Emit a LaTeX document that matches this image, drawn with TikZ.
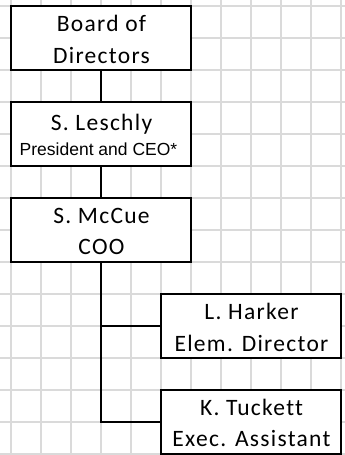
\documentclass[tikz,border=0pt]{standalone}
\usepackage{fontspec}
\setmainfont{Carlito}
\newfontfamily\cellfont[LetterSpace=5.5,Ligatures=NoCommon]{Carlito}
\newfontfamily\arialfont{Liberation Sans}
\definecolor{gridgray}{HTML}{DADADA}
\begin{document}
\begin{tikzpicture}[x=1pt,y=-1pt,
  gridline/.style={draw=gridgray,line width=1.7pt},
  box/.style={draw=black,line width=1.7pt,fill=white,minimum width=180pt,
    minimum height=64pt,inner sep=0pt,outer sep=0pt},
  wire/.style={draw=black,line width=1.7pt},
  celltext/.style={anchor=base,inner sep=0pt,font=\cellfont\fontsize{23.5}{26}\selectfont},
  roletext/.style={anchor=base,inner sep=0pt,font=\arialfont\fontsize{17.5}{21}\selectfont}]
\useasboundingbox (0,0) rectangle (345,455);
\begin{scope}
\clip (0,0) rectangle (345,455);
% worksheet cell grid
\foreach \gx in {10.7,40.7,...,341} \draw[gridline] (\gx,0) -- (\gx,455);
\foreach \gy in {6,38,...,455} \draw[gridline] (0,\gy) -- (345,\gy);
\end{scope}

% boxes
\node[box] (board) at (100.7,38) {};
\node[box] (ceo) at (100.7,134) {};
\node[box] (coo) at (100.7,230) {};
\node[box] (elem) at (250.7,326) {};
\node[box] (exec) at (250.7,422) {};

% labels
\node[celltext] (boardA) at (101.5,31.7) {Board of};
\node[celltext] (boardB) at (101.5,63.3) {Directors};
\node[celltext] (ceoA) at (101.5,130) {S. Leschly};
\node[roletext] (ceoB) at (98.5,155) {President and CEO*};
\node[celltext] (cooA) at (101.5,223.3) {S. McCue};
\node[celltext] (cooB) at (101.5,254.5) {COO};
\node[celltext] (elemA) at (251.5,319) {L. Harker};
\node[celltext] (elemB) at (251.5,351) {Elem. Director};
\node[celltext] (execA) at (251.5,415) {K. Tuckett};
\node[celltext] (execB) at (251.5,446.7) {Exec. Assistant};

% reporting lines
\draw[wire] (board.south) -- (ceo.north);
\draw[wire] (ceo.south) -- (coo.north);
\coordinate (trunk) at (coo.south |- exec.west);
\draw[wire] (coo.south) -- (trunk) -- (exec.west);
\draw[wire] (coo.south |- elem.west) -- (elem.west);
\end{tikzpicture}
\end{document}
